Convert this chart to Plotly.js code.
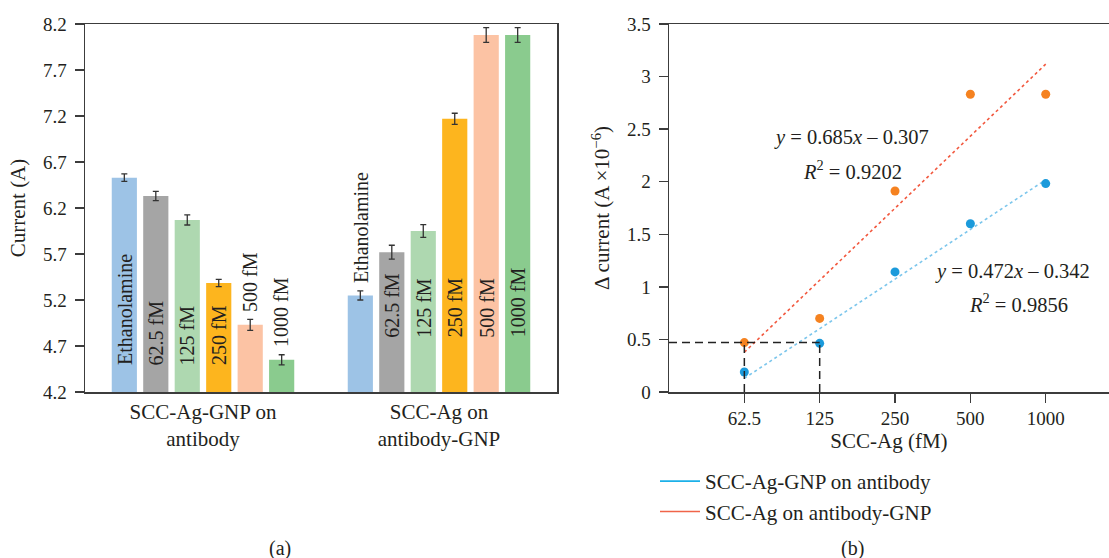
<!DOCTYPE html>
<html><head><meta charset="utf-8">
<script src="https://cdn.plot.ly/plotly-3.0.1.min.js"></script>
<style>html,body{margin:0;padding:0;background:#fff}#chart{width:1109px;height:558px}</style>
</head><body><div id="chart"></div>
<script>
// ---- Panel (a) data ----
const groups = ['SCC-Ag-GNP on<br>antibody', 'SCC-Ag on<br>antibody-GNP'];
const barLabels = ['Ethanolamine', '62.5 fM', '125 fM', '250 fM', '500 fM', '1000 fM'];
const barColors = ['#9DC3E6', '#A5A5A5', '#AED8B0', '#FDB51E', '#FCC3A4', '#8ACB8E'];
const currentGNPonAb = [6.53, 6.33, 6.07, 5.385, 4.93, 4.55];
const errGNPonAb = [0.04, 0.05, 0.055, 0.04, 0.06, 0.055];
const currentAgOnAbGNP = [5.25, 5.72, 5.95, 7.17, 8.08, 8.08];
const errAgOnAbGNP = [0.05, 0.075, 0.07, 0.06, 0.08, 0.08];

// ---- Panel (b) data ----
const concLabels = ['62.5', '125', '250', '500', '1000'];
const concIndex = [1, 2, 3, 4, 5];
const seriesNames = ['SCC-Ag-GNP on antibody', 'SCC-Ag on antibody-GNP'];
const deltaGNPonAb = [0.19, 0.463, 1.142, 1.60, 1.982];
const deltaAgOnAbGNP = [0.47, 0.70, 1.912, 2.832, 2.832];
const fitSlopes = [0.472, 0.685];
const fitIntercepts = [-0.342, -0.307];
const fitR2 = ['0.9856', '0.9202'];

// ---- styles ----
const FONT = 'Liberation Serif, Times New Roman, serif';
const TXT = '#231f20';
const AX = '#3c3c3c';
const markerColors = ['#1B9ADB', '#F58220'];
const trendColors = ['#7CC6EC', '#F2583E'];
const legendColors = ['#1CB0E8', '#F06449'];

const traces = [];
const annotations = [];
const nBars = barLabels.length;
const slot = 0.8 / nBars;
const valuesByGroup = [currentGNPonAb, currentAgOnAbGNP];
const errByGroup = [errGNPonAb, errAgOnAbGNP];
const labelBase = [4.47, 4.77];
const pxPerUnit = 92; // approx, used only to decide whether a label fits inside its bar
valuesByGroup.forEach((vals, g) => {
  const xs = vals.map((v, j) => g + (j - (nBars - 1) / 2) * slot);
  traces.push({
    type: 'bar', x: xs, y: vals, width: slot * 0.8,
    base: 0,
    marker: {color: barColors, line: {width: 0}},
    error_y: {type: 'data', array: errByGroup[g], visible: true, color: '#333', thickness: 1.3, width: 3},
    xaxis: 'x', yaxis: 'y', showlegend: false, hoverinfo: 'skip'
  });
  vals.forEach((v, j) => {
    const len = barLabels[j].length * 10 / pxPerUnit;
    const inside = labelBase[g] + len + 0.05 < v;
    annotations.push({
      xref: 'x', yref: 'y', x: xs[j],
      y: inside ? labelBase[g] : v + errByGroup[g][j] + 0.06,
      text: barLabels[j], textangle: -90, showarrow: false,
      xanchor: 'center', yanchor: 'bottom',
      font: {family: FONT, size: 20, color: TXT}
    });
  });
});

// panel (b) traces
[deltaGNPonAb, deltaAgOnAbGNP].forEach((d, s) => {
  const xEnds = [concIndex[0], concIndex[concIndex.length - 1]];
  traces.push({
    type: 'scatter', mode: 'lines', x: xEnds,
    y: xEnds.map(x => fitSlopes[s] * x + fitIntercepts[s]),
    line: {color: trendColors[s], width: 1.6, dash: 'dot'},
    xaxis: 'x2', yaxis: 'y2', showlegend: false, hoverinfo: 'skip'
  });
  traces.push({
    type: 'scatter', mode: 'markers', x: concIndex, y: d,
    marker: {color: markerColors[s], size: 9},
    xaxis: 'x2', yaxis: 'y2', showlegend: false
  });
});
seriesNames.forEach((n, s) => {
  traces.push({
    type: 'scatter', mode: 'lines', x: [null], y: [null], name: n,
    line: {color: legendColors[s], width: 1.6},
    xaxis: 'x2', yaxis: 'y2', showlegend: true
  });
});

// equations
const eqPos = [[4.555, 1.142, 4.635, 0.847], [2.42, 2.417, 2.43, 2.112]];
[0, 1].forEach(s => {
  const sign = fitIntercepts[s] < 0 ? ' \u2013 ' : ' + ';
  annotations.push({
    xref: 'x2', yref: 'y2', x: eqPos[s][0], y: eqPos[s][1], showarrow: false,
    text: '<i>y</i> = ' + fitSlopes[s].toFixed(3) + '<i>x</i>' + sign + Math.abs(fitIntercepts[s]).toFixed(3),
    font: {family: FONT, size: 20.5, color: TXT}
  });
  annotations.push({
    xref: 'x2', yref: 'y2', x: eqPos[s][2], y: eqPos[s][3], showarrow: false,
    text: '<i>R</i><sup>2</sup> = ' + fitR2[s],
    font: {family: FONT, size: 20.5, color: TXT}
  });
});

annotations.push({xref: 'paper', yref: 'paper', x: 280 / 1109, y: 1 - 548 / 558, xanchor: 'center', yanchor: 'middle',
  text: '(a)', showarrow: false, font: {family: FONT, size: 20, color: TXT}});
annotations.push({xref: 'paper', yref: 'paper', x: 852 / 1109, y: 1 - 548 / 558, xanchor: 'center', yanchor: 'middle',
  text: '(b)', showarrow: false, font: {family: FONT, size: 20, color: TXT}});

// dashed guide lines at the 62.5 fM level of SCC-Ag on antibody-GNP
const lod = deltaAgOnAbGNP[0];
const dashLine = {color: '#222', width: 1.5, dash: '8px,5px'};
const shapes = [
  {type: 'line', xref: 'x2', yref: 'y2', x0: 0, x1: concIndex[1], y0: lod, y1: lod, line: dashLine},
  {type: 'line', xref: 'x2', yref: 'y2', x0: concIndex[0], x1: concIndex[0], y0: 0, y1: lod, line: dashLine},
  {type: 'line', xref: 'x2', yref: 'y2', x0: concIndex[1], x1: concIndex[1], y0: 0, y1: lod, line: dashLine}
];

const tickFont = {family: FONT, size: 19, color: TXT};
const yDomain = [1 - 392 / 558, 1 - 24 / 558];
const layout = {
  width: 1109, height: 558,
  margin: {l: 0, r: 0, t: 0, b: 0},
  paper_bgcolor: '#fff', plot_bgcolor: '#fff',
  font: {family: FONT, color: TXT},
  showlegend: true,
  legend: {x: 655 / 1109, y: 1 - 461 / 558, xanchor: 'left', yanchor: 'top', itemwidth: 40,
    font: {family: FONT, size: 21, color: TXT}, bgcolor: 'rgba(0,0,0,0)', tracegroupgap: 0},
  xaxis: {
    domain: [85 / 1109, 557 / 1109], range: [-0.5, 1.5],
    tickvals: [0, 1], ticktext: groups, ticks: '',
    showline: true, mirror: true, linecolor: AX, linewidth: 1.5,
    showgrid: false, zeroline: false, tickfont: {family: FONT, size: 21, color: TXT}, anchor: 'y'
  },
  yaxis: {
    domain: yDomain, range: [4.2, 8.2], tick0: 4.2, dtick: 0.5,
    ticks: 'outside', ticklen: 9, tickcolor: AX, tickwidth: 1.5,
    showline: true, mirror: true, linecolor: AX, linewidth: 1.5,
    showgrid: false, zeroline: false, tickfont: tickFont, anchor: 'x',
    ticklabelstandoff: 4,
    title: {text: 'Current (A)', font: {family: FONT, size: 21, color: TXT}, standoff: 11}
  },
  xaxis2: {
    domain: [669 / 1109, 1], range: [0, 5.84],
    tickvals: concIndex, ticktext: concLabels,
    ticks: 'outside', ticklen: 9, tickcolor: AX, tickwidth: 1.5,
    showline: true, mirror: true, linecolor: AX, linewidth: 1.5,
    showgrid: false, zeroline: false, tickfont: tickFont, anchor: 'y2',
    title: {text: 'SCC-Ag (fM)', font: {family: FONT, size: 21, color: TXT}, standoff: 5}
  },
  yaxis2: {
    domain: yDomain, range: [0, 3.5], dtick: 0.5,
    ticks: 'outside', ticklen: 9, tickcolor: AX, tickwidth: 1.5,
    showline: true, mirror: false, linecolor: AX, linewidth: 1.5,
    showgrid: false, zeroline: false, tickfont: tickFont, anchor: 'x2',
    ticklabelstandoff: 4,
    title: {text: '\u0394 current (A \u00d710<sup>\u22126</sup>)', font: {family: FONT, size: 21, color: TXT}, standoff: 11}
  },
  annotations: annotations,
  shapes: shapes,
  bargap: 0.2
};
Plotly.newPlot('chart', traces, layout, {displayModeBar: false, staticPlot: true});
</script>
</body></html>
